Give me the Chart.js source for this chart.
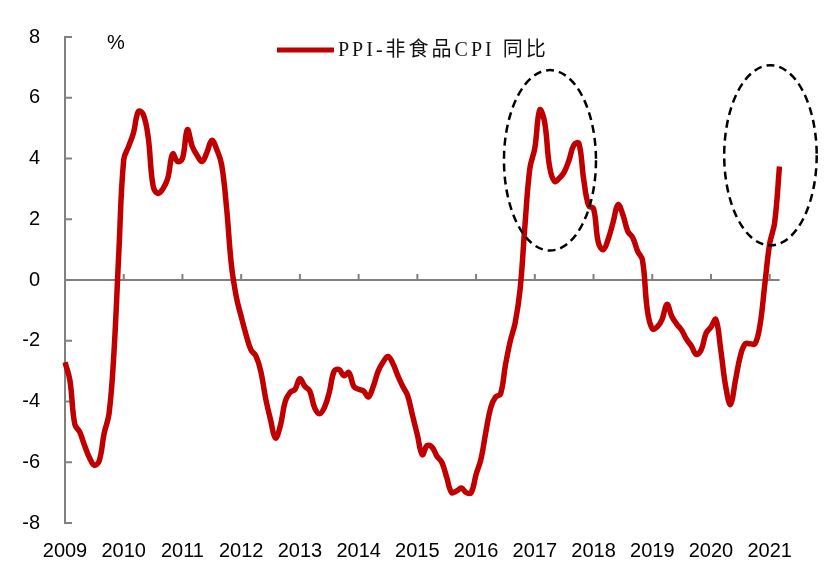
<!DOCTYPE html>
<html>
<head>
<meta charset="utf-8">
<script src="https://cdn.jsdelivr.net/npm/chart.js@4.4.1/dist/chart.umd.min.js"></script>
<style>
    body { margin: 0; background: #fff; }
    #wrap { width: 828px; height: 568px; }
</style>
</head>
<body>
<div id="wrap"><canvas id="ppiChart"></canvas></div>
<script>
// anni sull'asse x
const years = ['2009', '2010', '2011', '2012', '2013', '2014', '2015', '2016', '2017', '2018', '2019', '2020', '2021'];

// PPI - CPI non alimentare, variazione annua (%), dati mensili
const v2009 = [-2.71, -3.3, -4.75, -5.0, -5.45, -5.85, -6.1, -5.95, -5.05, -4.4, -2.4, 0.9];
const v2010 = [3.96, 4.4, 4.85, 5.55, 5.45, 4.7, 3.1, 2.85, 3.0, 3.35, 4.15, 3.9];
const v2011 = [4.0, 4.95, 4.4, 4.1, 3.9, 4.2, 4.6, 4.3, 3.8, 2.4, 0.5, -0.55];
const v2012 = [-1.2, -1.8, -2.3, -2.5, -3.0, -3.9, -4.6, -5.2, -4.8, -4.0, -3.7, -3.6];
const v2013 = [-3.25, -3.5, -3.65, -4.2, -4.4, -4.2, -3.7, -3.0, -2.95, -3.15, -3.05, -3.5];
const v2014 = [-3.6, -3.65, -3.85, -3.5, -3.0, -2.7, -2.52, -2.75, -3.15, -3.5, -3.8, -4.45];
const v2015 = [-5.1, -5.75, -5.45, -5.5, -5.8, -6.0, -6.5, -7.0, -6.95, -6.85, -7.0, -7.0];
const v2016 = [-6.4, -5.9, -5.0, -4.2, -3.85, -3.75, -2.8, -2.0, -1.4, -0.3, 1.83, 3.68];
const v2017 = [4.34, 5.6, 5.2, 3.75, 3.25, 3.35, 3.55, 3.95, 4.45, 4.5, 3.3, 2.45];
const v2018 = [2.35, 1.22, 1.0, 1.35, 1.9, 2.48, 2.15, 1.6, 1.4, 0.95, 0.65, -1.0];
const v2019 = [-1.6, -1.55, -1.3, -0.8, -1.2, -1.45, -1.65, -1.95, -2.17, -2.45, -2.3, -1.75];
const v2020 = [-1.55, -1.3, -2.3, -3.5, -4.1, -3.3, -2.5, -2.1, -2.1, -2.1, -1.5, -0.14];
const v2021 = [1.2, 1.88, 3.74];

const yearSeries = [v2009, v2010, v2011, v2012, v2013, v2014, v2015, v2016, v2017, v2018, v2019, v2020, v2021];

// tick dell'asse y
const yTicks = [-8, -6, -4, -2, 0, 2, 4, 6, 8];

// zone evidenziate (indice mese da/a, valore basso/alto)
const highlights = [
    { from: 89.7, to: 108.5, low: 0.97, high: 6.91 },
    { from: 134.7, to: 153.6, low: 1.14, high: 7.07 }
];

const seriesName = 'PPI-非食品CPI 同比';

// costruisci etichette mensili e valori
const monthLabels = [];
const values = [];
yearSeries.forEach((arr, k) => {
    arr.forEach((v, m) => {
        monthLabels.push(years[k] + '-' + (m + 1));
        values.push(v);
    });
});

const decoPlugin = {
    id: 'decoPlugin',
    beforeDatasetsDraw(chart) {
        const { ctx, chartArea, scales: { x, y } } = chart;
        const y0 = y.getPixelForValue(0);
        ctx.save();
        ctx.strokeStyle = '#808080';
        ctx.lineWidth = 2;
        ctx.beginPath();
        // asse y
        ctx.moveTo(chartArea.left, chartArea.top - 1);
        ctx.lineTo(chartArea.left, chartArea.bottom + 1);
        // tacche interne asse y
        yTicks.forEach(t => {
            const py = y.getPixelForValue(t);
            ctx.moveTo(chartArea.left, py);
            ctx.lineTo(chartArea.left + 7, py);
        });
        // linea dello zero
        ctx.moveTo(chartArea.left, y0);
        ctx.lineTo(chartArea.right, y0);
        for (let i = 12; i < monthLabels.length; i += 12) {
            const px = x.getPixelForValue(i);
            ctx.moveTo(px, y0);
            ctx.lineTo(px, y0 - 6);
        }
        ctx.stroke();
        ctx.restore();
    },
    afterDraw(chart) {
        const { ctx, chartArea, scales: { x, y } } = chart;
        ctx.save();

        // ellissi tratteggiate
        ctx.strokeStyle = '#000';
        ctx.lineWidth = 2.5;
        ctx.setLineDash([8, 5]);
        highlights.forEach(h => {
            const x1 = x.getPixelForValue(h.from);
            const x2 = x.getPixelForValue(h.to);
            const y1 = y.getPixelForValue(h.high);
            const y2 = y.getPixelForValue(h.low);
            ctx.beginPath();
            ctx.ellipse((x1 + x2) / 2, (y1 + y2) / 2, (x2 - x1) / 2, (y2 - y1) / 2, 0, 0, Math.PI * 2);
            ctx.stroke();
        });
        ctx.setLineDash([]);

        // unità
        ctx.fillStyle = '#000';
        ctx.font = '20px "Liberation Sans", Arial, sans-serif';
        ctx.textAlign = 'center';
        ctx.textBaseline = 'middle';
        ctx.fillText('%', chartArea.left + 51, chartArea.top + 6);

        // legenda
        const ds = chart.data.datasets[0];
        const lx = chartArea.left + 212;
        const ly = chartArea.top + 13;
        ctx.strokeStyle = ds.borderColor;
        ctx.lineWidth = 5;
        ctx.beginPath();
        ctx.moveTo(lx, ly);
        ctx.lineTo(lx + 57, ly);
        ctx.stroke();
        ctx.font = '20px "Liberation Serif", "Noto Sans CJK SC", serif';
        ctx.letterSpacing = '3px';
        ctx.textAlign = 'left';
        ctx.fillStyle = '#111';
        ctx.fillText(ds.label, lx + 61, ly + 1);
        ctx.restore();
    }
};

new Chart(document.getElementById('ppiChart'), {
    type: 'line',
    data: {
        labels: monthLabels,
        datasets: [{
            label: seriesName,
            data: values,
            borderColor: '#C00000',
            borderWidth: 5.5,
            pointRadius: 0,
            tension: 0.4,
            fill: false
        }]
    },
    options: {
        responsive: true,
        maintainAspectRatio: false,
        animation: false,
        layout: { padding: { left: 0, right: 48.5, top: 35, bottom: 0 } },
        plugins: {
            legend: { display: false },
            tooltip: { enabled: false }
        },
        scales: {
            x: {
                type: 'category',
                grid: { display: false, drawTicks: false },
                border: { display: false },
                ticks: {
                    autoSkip: false,
                    maxRotation: 0,
                    padding: 16,
                    color: '#000',
                    font: { family: '"Liberation Sans", Arial, sans-serif', size: 20 },
                    callback: (value, index) => index % 12 === 0 ? years[index / 12] : null
                },
                afterFit: scale => { scale.height = 45; }
            },
            y: {
                min: -8,
                max: 8,
                grid: { display: false, drawTicks: false },
                border: { display: false },
                ticks: {
                    stepSize: 2,
                    padding: 25,
                    color: '#000',
                    font: { family: '"Liberation Sans", Arial, sans-serif', size: 20 }
                },
                afterFit: scale => { scale.width = 65; }
            }
        }
    },
    plugins: [decoPlugin]
});
</script>
</body>
</html>
